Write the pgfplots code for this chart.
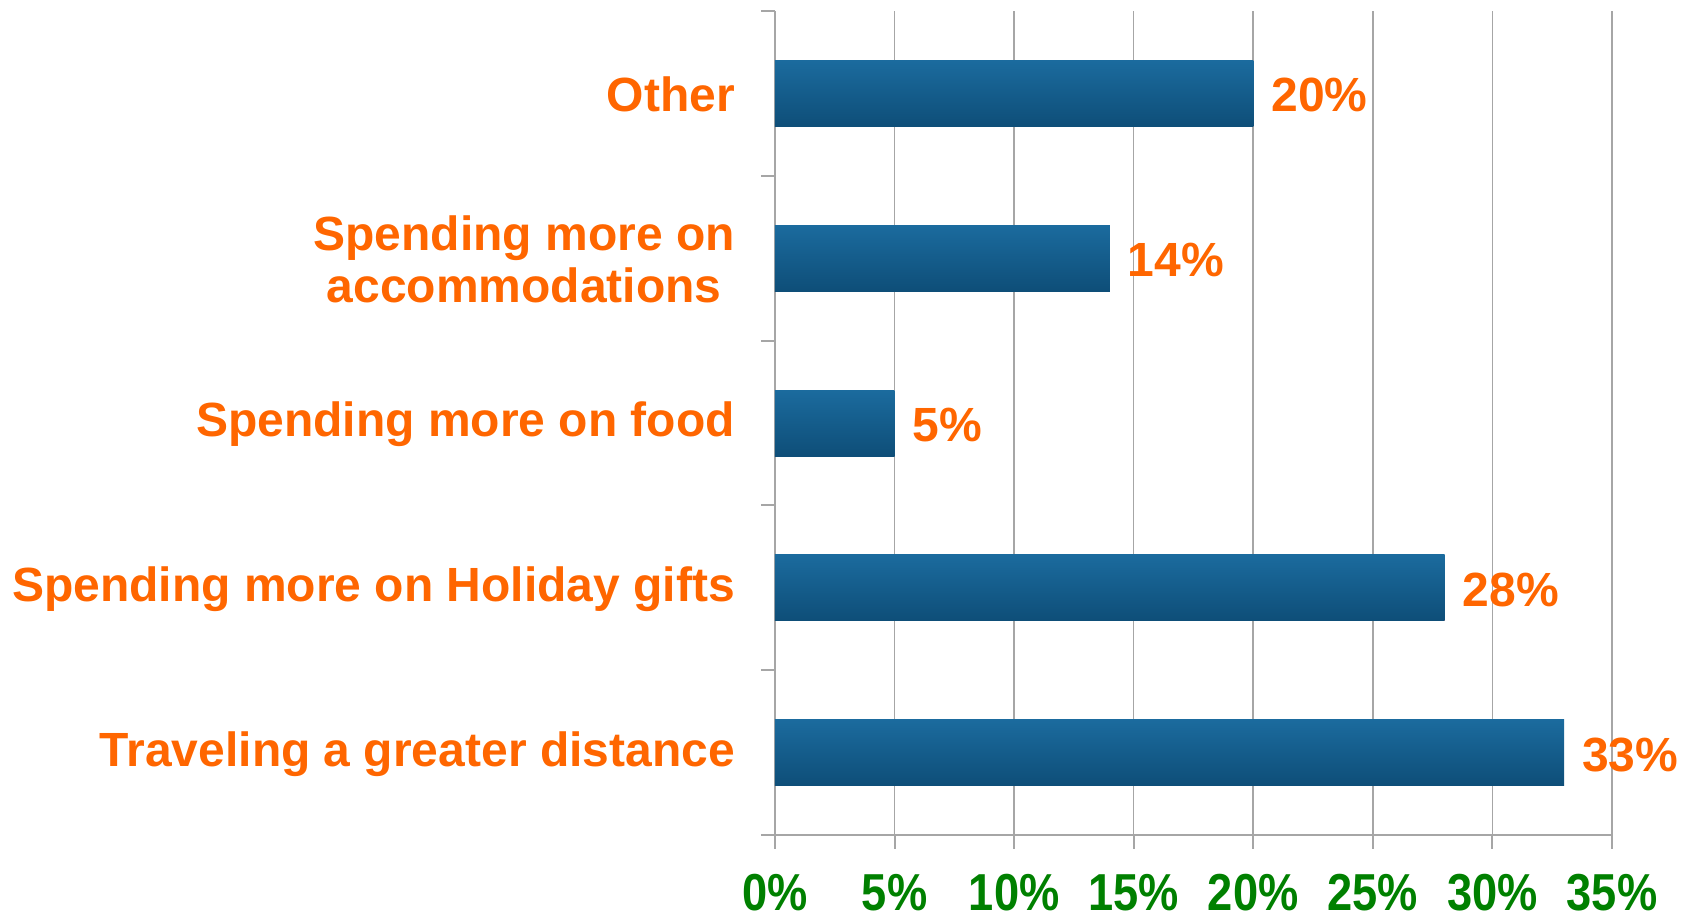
\documentclass[border=0pt]{standalone}
\usepackage{fontspec}
\setmainfont{Liberation Sans}
\usepackage{graphicx}
\usepackage{pgfplots}
\pgfplotsset{compat=1.18}
\definecolor{barTop}{HTML}{1B6B9E}
\definecolor{barBot}{HTML}{0E4E78}
\definecolor{lblOrange}{HTML}{FF6600}
\definecolor{tickGreen}{HTML}{008000}
\definecolor{gridGray}{HTML}{A6A6A6}
\begin{document}
\begin{tikzpicture}
\begin{axis}[
  at={(0,0)}, anchor=south west,
  width=209.25pt, height=206pt, scale only axis,
  xbar, bar width=16.5pt, bar shift=0pt,
  xmin=0, xmax=35,
  ymin=-0.5, ymax=4.5,
  axis x line*=bottom, axis y line*=left,
  axis line style={gridGray, line width=0.5pt},
  xtick={0,5,...,35},
  xticklabel={\scalebox{0.87}[1]{\pgfmathprintnumber{\tick}\%}},
  ytick={0,1,2,3,4},
  yticklabels={Traveling a greater distance, Spending more on Holiday gifts, Spending more on food, Spending more on\\accommodations, Other},
  minor ytick={-0.5,0.5,1.5,2.5,3.5,4.5},
  major y tick style={draw=none},
  tick align=outside,
  major tick length=3.5pt, minor tick length=3.5pt,
  tick style={gridGray, line width=0.5pt},
  xmajorgrids, grid style={gridGray, line width=0.4pt},
  /pgf/number format/assume math mode=true,
  xticklabel style={font=\fontsize{13}{15}\selectfont\bfseries, text=tickGreen, yshift=-2.8pt},
  yticklabel style={font=\fontsize{12}{13}\selectfont\bfseries, text=lblOrange, align=center, xshift=-3pt, yshift=-0.3pt},
  point meta=x,
  nodes near coords={\pgfmathprintnumber{\pgfplotspointmeta}\%},
  every node near coord/.append style={font=\fontsize{12}{14}\selectfont\bfseries, text=lblOrange, xshift=1pt, yshift=-0.5pt},
  every axis plot/.append style={draw=none, top color=barTop, bottom color=barBot},
]
\addplot coordinates {(33,0)};
\addplot coordinates {(28,1)};
\addplot coordinates {(5,2)};
\addplot coordinates {(14,3)};
\addplot coordinates {(20,4)};
\end{axis}
\pgfresetboundingbox
\path (-193.75pt,-21pt) rectangle (229.75pt,208.75pt);
\end{tikzpicture}
\end{document}
